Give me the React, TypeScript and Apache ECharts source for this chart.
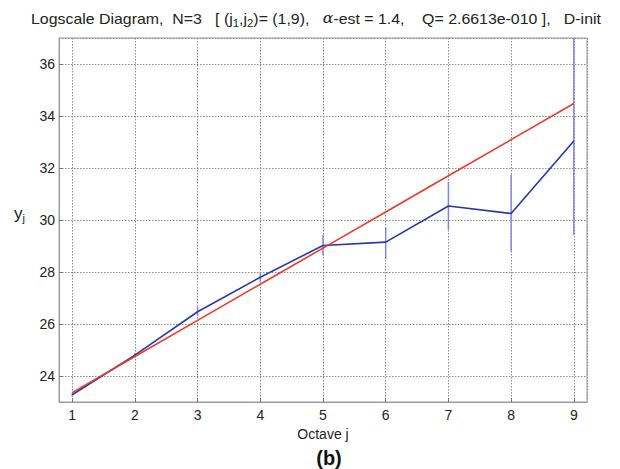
import React, { useEffect, useRef } from "react";
import * as echarts from "echarts";

const octaves = [1, 2, 3, 4, 5, 6, 7, 8, 9];
const yj = [23.28, 24.8, 26.47, 27.8, 29.02, 29.15, 30.54, 30.25, 33.04];
const yLow = [23.22, 24.72, 26.3, 27.6, 28.63, 28.5, 29.62, 28.78, 29.42];
const yHigh = [23.34, 24.88, 26.65, 28.0, 29.42, 29.72, 31.47, 31.75, 37.0];
const fitLine = [23.36, 24.75, 26.14, 27.53, 28.92, 30.31, 31.7, 33.09, 34.48];
const xRange = [0.79, 9.21];
const yRange = [23, 37];
const titleText =
  "Logscale Diagram,  N=3   [ (j{s|1},j{s|2})= (1,9),   {a|α}-est = 1.4,    Q= 2.6613e-010 ],   D-init";

const FONT = "Liberation Sans";

export default function App() {
  const ref = useRef<HTMLDivElement>(null);
  useEffect(() => {
    if (!ref.current) return;
    const chart = echarts.init(ref.current, undefined, { renderer: "svg" });
    const gridColor = "#8a8a8a";
    chart.setOption({
      animation: false,
      backgroundColor: "#ffffff",
      grid: {
        left: 59,
        right: 33,
        top: 38,
        bottom: 67,
        show: true,
        borderColor: "#9a9a9a",
        borderWidth: 1,
      },
      xAxis: {
        type: "value",
        min: xRange[0],
        max: xRange[1],
        splitNumber: 8,
        minInterval: 1,
        maxInterval: 1,
        name: "Octave j",
        nameLocation: "middle",
        nameGap: 23,
        nameTextStyle: { fontFamily: FONT, fontSize: 14, color: "#222" },
        axisLine: { show: true, lineStyle: { color: "#9a9a9a" } },
        axisTick: { show: true, inside: true, length: 4, lineStyle: { color: "#777" } },
        axisLabel: {
          showMinLabel: false,
          showMaxLabel: false,
          fontFamily: FONT,
          fontSize: 14,
          color: "#222",
          margin: 6,
        },
        splitLine: { show: true, lineStyle: { color: gridColor, type: [1.5, 1.5], width: 1 } },
      },
      yAxis: {
        type: "value",
        min: yRange[0],
        max: yRange[1],
        splitNumber: 7,
        minInterval: 2,
        maxInterval: 2,
        axisLine: { show: true, lineStyle: { color: "#9a9a9a" } },
        axisTick: { show: true, inside: true, length: 4, lineStyle: { color: "#777" } },
        axisLabel: {
          showMinLabel: false,
          showMaxLabel: false,
          fontFamily: FONT,
          fontSize: 14,
          color: "#222",
          margin: 4,
        },
        splitLine: { show: true, lineStyle: { color: gridColor, type: [1.5, 1.5], width: 1 } },
      },
      graphic: [
        {
          type: "text",
          x: 31,
          y: 9,
          scaleX: 1.135,
          style: {
            text: titleText,
            fontFamily: FONT,
            fontSize: 14,
            fill: "#222",
            rich: {
              s: { fontFamily: FONT, fontSize: 10, fill: "#222", padding: [9, 0, 0, 0] },
              a: { fontFamily: "DejaVu Serif", fontSize: 14, fill: "#222", fontStyle: "italic" },
            },
          },
        },
        {
          type: "text",
          x: 14,
          y: 203,
          style: {
            text: "y{s|j}",
            fontFamily: FONT,
            fontSize: 17,
            fill: "#222",
            rich: { s: { fontFamily: FONT, fontSize: 11, fill: "#222", padding: [9, 0, 0, 0] } },
          },
        },
        {
          type: "text",
          x: 329,
          y: 458,
          style: {
            text: "(b)",
            fontFamily: FONT,
            fontSize: 20,
            fontWeight: "bold",
            fill: "#111",
            align: "center",
            verticalAlign: "middle",
          },
        },
      ],
      series: [
        {
          type: "custom",
          name: "errors",
          z: 2,
          data: octaves.map((j, i) => [j, yLow[i], yHigh[i]]),
          renderItem: (params: any, api: any) => {
            const x = api.value(0);
            const p1 = api.coord([x, api.value(1)]);
            const p2 = api.coord([x, api.value(2)]);
            return {
              type: "line",
              shape: { x1: p1[0], y1: p1[1], x2: p2[0], y2: p2[1] },
              style: { stroke: "#7f88dc", lineWidth: 1.5 },
            };
          },
        },
        {
          type: "line",
          name: "yj",
          z: 3,
          data: octaves.map((j, i) => [j, yj[i]]),
          showSymbol: false,
          symbol: "none",
          lineStyle: { color: "#2b37a8", width: 1.6 },
        },
        {
          type: "line",
          name: "fit",
          z: 4,
          data: octaves.map((j, i) => [j, fitLine[i]]),
          showSymbol: false,
          symbol: "none",
          lineStyle: { color: "#f03a2a", width: 1.6 },
        },
      ],
    });
    return () => chart.dispose();
  }, []);
  return <div ref={ref} style={{ width: 620, height: 469, position: "absolute", left: 0, top: 0 }} />;
}
